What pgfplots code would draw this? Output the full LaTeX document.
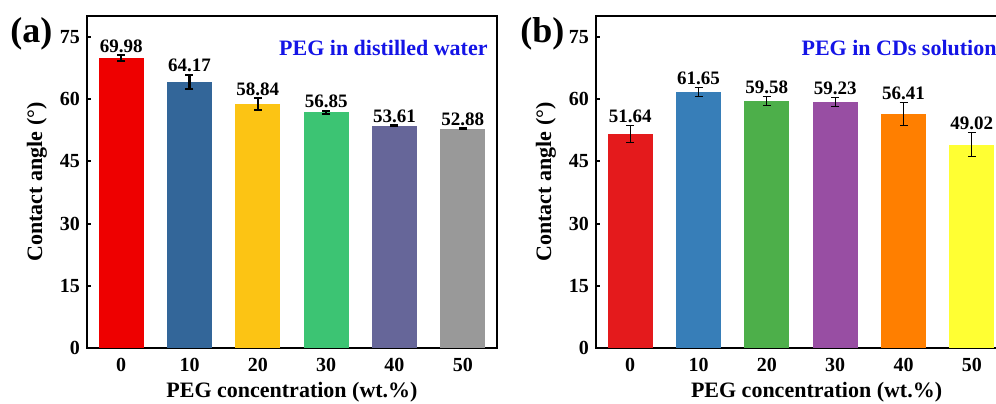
\documentclass[border=0pt]{standalone}
\usepackage{fontspec}
\setmainfont{Liberation Serif}
\usepackage{pgfplots}
\usepackage{pgfplotstable}
\pgfplotsset{compat=1.18}

\definecolor{a0}{HTML}{EE0000}
\definecolor{a1}{HTML}{336699}
\definecolor{a2}{HTML}{FCC414}
\definecolor{a3}{HTML}{3CC473}
\definecolor{a4}{HTML}{666699}
\definecolor{a5}{HTML}{999999}
\definecolor{b0}{HTML}{E41A1C}
\definecolor{b1}{HTML}{377EB8}
\definecolor{b2}{HTML}{4DAF4A}
\definecolor{b3}{HTML}{984EA3}
\definecolor{b4}{HTML}{FF7F00}
\definecolor{b5}{HTML}{FFFF33}
\definecolor{ttl}{HTML}{1414E6}

\pgfplotstableread{
x y err
0 69.98 0.7
1 64.17 1.7
2 58.84 1.4
3 56.85 0.35
4 53.61 0.2
5 52.88 0.2
}\dataA
\pgfplotstableread{
x y err
0 51.64 2.0
1 61.65 1.1
2 59.58 1.1
3 59.23 1.15
4 56.41 2.75
5 49.02 2.9
}\dataB

\pgfplotsset{
  panel/.style={
    scale only axis, width=205pt, height=166pt, anchor=south west,
    xmin=-0.5, xmax=5.5, ymin=0, ymax=80,
    xtick={0,...,5}, xticklabels={0,10,20,30,40,50},
    ytick={0,15,...,75},
    axis line style={line width=1pt},
    tick align=inside, ytick pos=left, major tick length=2pt,
    ytick style={line width=1pt, black},
    xtick style={draw=none},
    tick label style={font=\fontsize{10}{12}\selectfont\bfseries},
    /pgf/number format/assume math mode=true,
    xticklabel style={yshift=-1.5pt},
    xlabel={PEG concentration (wt.\%)}, ylabel={Contact angle (°)},
    label style={font=\fontsize{11}{13}\selectfont\bfseries},
    ylabel style={at={(axis description cs:-0.122,0.5)}, anchor=center},
    xlabel style={at={(axis description cs:0.5,-0.1325)}, anchor=center},
  },
  barA/.style={ybar, bar width=22.5pt, bar shift=0pt, draw=none, fill=#1,
    error bars/.cd, y dir=both, y explicit,
    error bar style={line width=1pt, black},
    error mark options={rotate=90, mark size=2pt, line width=1pt, black}},
  barB/.style={ybar, bar width=22.5pt, bar shift=0pt, draw=none, fill=#1,
    error bars/.cd, y dir=both, y explicit,
    error bar style={line width=0.5pt, black},
    error mark options={rotate=90, mark size=2pt, line width=0.5pt, black}},
  vals/.style={draw=none, mark=none, nodes near coords={\pgfmathprintnumber[fixed,precision=2,fixed zerofill]{\pgfplotspointmeta}},
    point meta=explicit,
    nodes near coords style={anchor=south, inner sep=1pt, black, font=\fontsize{9.5}{11}\selectfont\bfseries}},
}

\begin{document}
\begin{tikzpicture}
\begin{axis}[panel, at={(43.5pt,27.5pt)}]
\addplot[restrict x to domain=-0.1:0.1, barA=a0] table[x=x,y=y,y error=err] {\dataA};
\addplot[restrict x to domain=0.9:1.1, barA=a1] table[x=x,y=y,y error=err] {\dataA};
\addplot[restrict x to domain=1.9:2.1, barA=a2] table[x=x,y=y,y error=err] {\dataA};
\addplot[restrict x to domain=2.9:3.1, barA=a3] table[x=x,y=y,y error=err] {\dataA};
\addplot[restrict x to domain=3.9:4.1, barA=a4] table[x=x,y=y,y error=err] {\dataA};
\addplot[restrict x to domain=4.9:5.1, barA=a5] table[x=x,y=y,y error=err] {\dataA};
\addplot[vals] table[x=x, y expr=\thisrow{y}+\thisrow{err}, meta=y] {\dataA};
\node[anchor=east, text=ttl, font=\fontsize{11}{13}\selectfont\bfseries, inner sep=0pt] at (rel axis cs:0.978,0.904) {PEG in distilled water};
\end{axis}
\begin{axis}[panel, at={(298pt,27.5pt)}, xlabel style={at={(axis description cs:0.538,-0.1325)}}]
\addplot[restrict x to domain=-0.1:0.1, barB=b0] table[x=x,y=y,y error=err] {\dataB};
\addplot[restrict x to domain=0.9:1.1, barB=b1] table[x=x,y=y,y error=err] {\dataB};
\addplot[restrict x to domain=1.9:2.1, barB=b2] table[x=x,y=y,y error=err] {\dataB};
\addplot[restrict x to domain=2.9:3.1, barB=b3] table[x=x,y=y,y error=err] {\dataB};
\addplot[restrict x to domain=3.9:4.1, barB=b4] table[x=x,y=y,y error=err] {\dataB};
\addplot[restrict x to domain=4.9:5.1, barB=b5] table[x=x,y=y,y error=err] {\dataB};
\addplot[vals] table[x=x, y expr=\thisrow{y}+\thisrow{err}, meta=y] {\dataB};
\node[anchor=east, text=ttl, font=\fontsize{11}{13}\selectfont\bfseries, inner sep=0pt] at (rel axis cs:0.978,0.904) {PEG in CDs solution};
\end{axis}
\node[anchor=west, inner sep=0pt, font=\fontsize{18}{20}\selectfont\bfseries] at (5pt,184.5pt) {(a)};
\node[anchor=west, inner sep=0pt, font=\fontsize{18}{20}\selectfont\bfseries] at (260pt,184.5pt) {(b)};
\pgfresetboundingbox
\useasboundingbox (0,0) rectangle (498pt,201.5pt);
\end{tikzpicture}
\end{document}
